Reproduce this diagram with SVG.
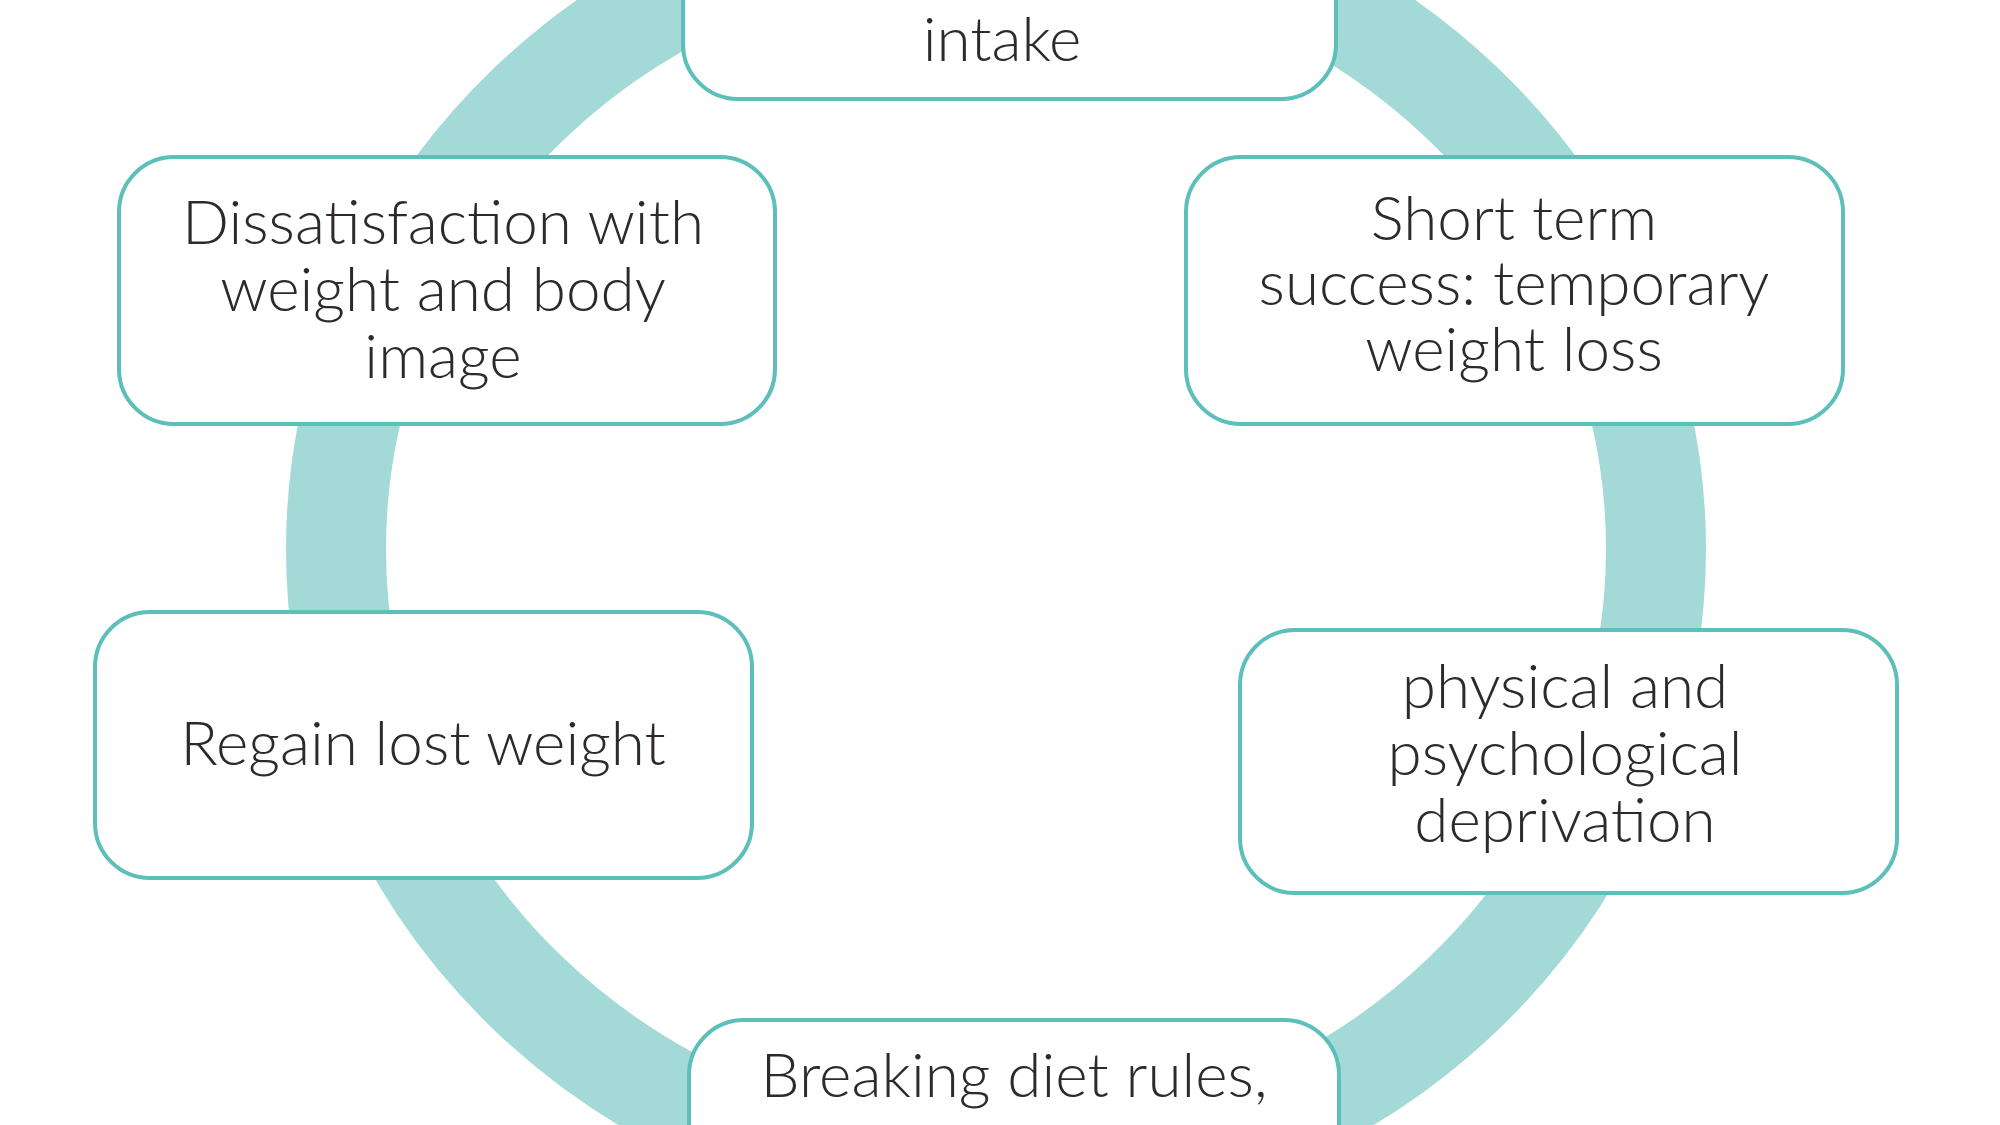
<svg xmlns="http://www.w3.org/2000/svg" width="2000" height="1125" viewBox="0 0 2000 1125">
<style>
.box{fill:#fff;stroke:#5cbfb9;stroke-width:4}
.t{font-family:Lato,"Open Sans",sans-serif;font-weight:300;font-size:62px;fill:#2e2a2a;text-anchor:middle}
</style>
<rect width="2000" height="1125" fill="#fff"/>
<g id="connectors"><ellipse cx="996" cy="549" rx="660" ry="630" fill="none" stroke="#a3dad7" stroke-width="100"/></g>
<g id="n1"><rect class="box" x="683" y="-80" width="653" height="179" rx="55"/><text class="t" x="1002" y="61">intake</text></g>
<g id="n2"><rect class="box" x="119" y="157" width="656" height="267" rx="55"/><text class="t" x="443" y="244">Dissatisfaction with</text><text class="t" x="443" y="311">weight and body</text><text class="t" x="443" y="378">image</text></g>
<g id="n3"><rect class="box" x="1186" y="157" width="657" height="267" rx="55"/><text class="t" x="1514" y="240">Short term</text><text class="t" x="1514" y="305">success: temporary</text><text class="t" x="1514" y="371">weight loss</text></g>
<g id="n4"><rect class="box" x="95" y="612" width="657" height="266" rx="55"/><text class="t" x="423" y="765">Regain lost weight</text></g>
<g id="n5"><rect class="box" x="1240" y="630" width="657" height="263" rx="55"/><text class="t" x="1565" y="708">physical and</text><text class="t" x="1565" y="775">psychological</text><text class="t" x="1565" y="842">deprivation</text></g>
<g id="n6"><rect class="box" x="689" y="1020" width="650" height="200" rx="55"/><text class="t" x="1014" y="1097">Breaking diet rules,</text></g>
</svg>
